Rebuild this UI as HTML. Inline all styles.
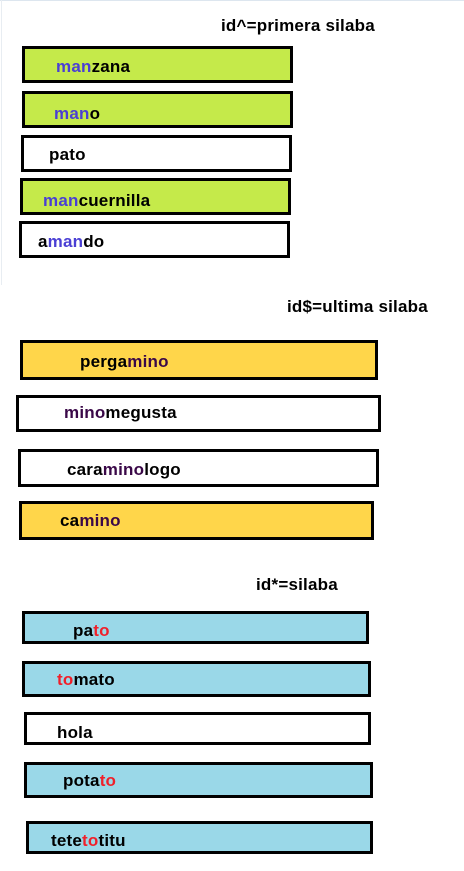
<!DOCTYPE html>
<html><head><meta charset="utf-8"><style>
html,body{margin:0;padding:0;background:#fff;width:464px;height:871px;overflow:hidden;position:relative}
.b{position:absolute;box-sizing:border-box;border:3px solid #000}
.t{position:absolute;font-family:"Liberation Sans",Arial,sans-serif;font-weight:bold;font-size:17px;line-height:17px;white-space:nowrap;color:#000;margin-top:2px;letter-spacing:0.2px}
.g{background:#c5ea4a}.y{background:#ffd64a}.c{background:#9ad8e8}
.u{color:#4a3fd4}.p{color:#3a0848}.r{color:#f0202a}
</style></head><body>
<div style="position:absolute;left:0;top:0;width:464px;height:1px;background:#dde6ef"></div>
<div style="position:absolute;left:1px;top:0;width:1px;height:285px;background:#e8edf2"></div>

<div class="t" style="left:221px;top:15px">id^=primera silaba</div>
<div class="b g" style="left:22px;top:46px;width:271px;height:37px"></div>
<div class="t" style="left:56px;top:56px"><span class="u">man</span>zana</div>
<div class="b g" style="left:22px;top:91px;width:271px;height:37px"></div>
<div class="t" style="left:54px;top:103px"><span class="u">man</span>o</div>
<div class="b" style="left:21px;top:135px;width:271px;height:37px"></div>
<div class="t" style="left:49px;top:144px">pato</div>
<div class="b g" style="left:20px;top:178px;width:271px;height:37px"></div>
<div class="t" style="left:43px;top:190px"><span class="u">man</span>cuernilla</div>
<div class="b" style="left:19px;top:221px;width:271px;height:37px"></div>
<div class="t" style="left:38px;top:231px">a<span class="u">man</span>do</div>

<div class="t" style="left:287px;top:296px">id$=ultima silaba</div>
<div class="b y" style="left:20px;top:340px;width:358px;height:40px"></div>
<div class="t" style="left:80px;top:351px">perga<span class="p">mino</span></div>
<div class="b" style="left:16px;top:395px;width:365px;height:37px"></div>
<div class="t" style="left:64px;top:402px"><span class="p">mino</span>megusta</div>
<div class="b" style="left:18px;top:449px;width:361px;height:38px"></div>
<div class="t" style="left:67px;top:459px">cara<span class="p">mino</span>logo</div>
<div class="b y" style="left:19px;top:501px;width:355px;height:39px"></div>
<div class="t" style="left:60px;top:510px">ca<span class="p">mino</span></div>

<div class="t" style="left:256px;top:574px">id*=silaba</div>
<div class="b c" style="left:22px;top:611px;width:347px;height:33px"></div>
<div class="t" style="left:73px;top:620px">pa<span class="r">to</span></div>
<div class="b c" style="left:22px;top:661px;width:349px;height:36px"></div>
<div class="t" style="left:57px;top:669px"><span class="r">to</span>mato</div>
<div class="b" style="left:24px;top:712px;width:347px;height:33px"></div>
<div class="t" style="left:57px;top:722px">hola</div>
<div class="b c" style="left:24px;top:762px;width:349px;height:36px"></div>
<div class="t" style="left:63px;top:770px">pota<span class="r">to</span></div>
<div class="b c" style="left:26px;top:821px;width:347px;height:33px"></div>
<div class="t" style="left:51px;top:830px">tete<span class="r">to</span>titu</div>
</body></html>
